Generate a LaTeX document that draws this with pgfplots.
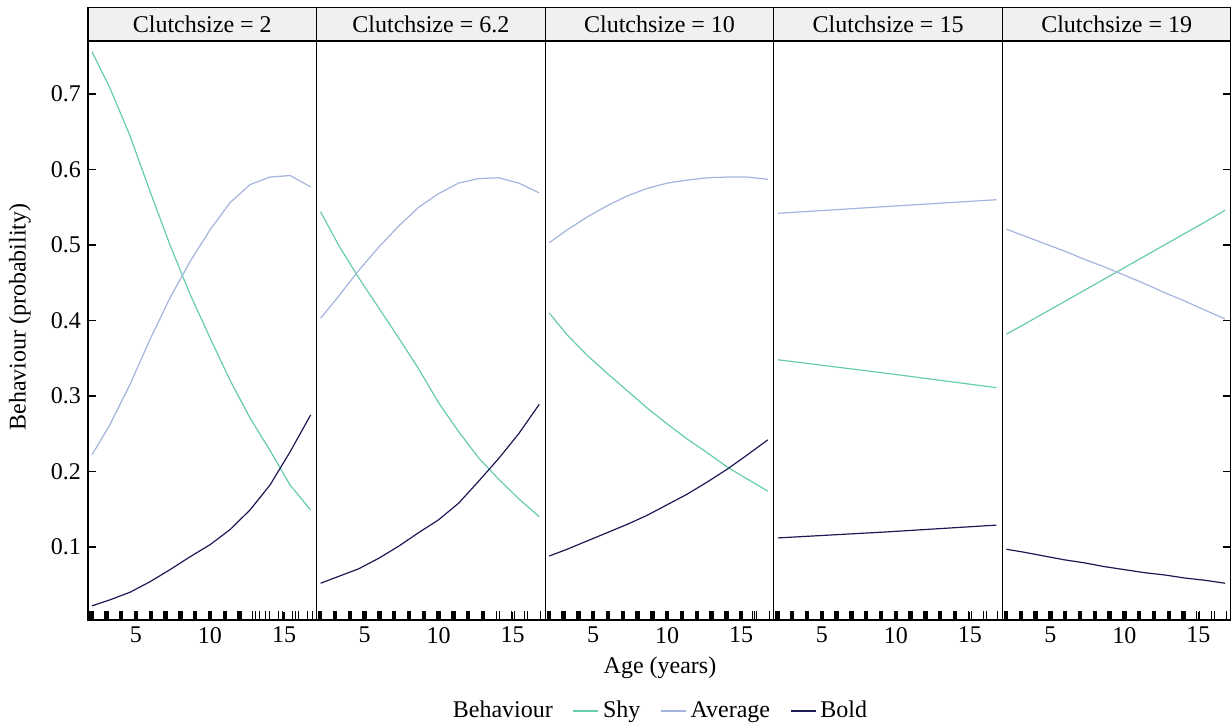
\documentclass[border=0pt]{standalone}
\usepackage{pgfplots}
\pgfplotsset{compat=1.18}
\usepackage{fontspec}
\setmainfont{Liberation Serif}

\definecolor{cshy}{HTML}{66CDAA}
\definecolor{cavg}{HTML}{A4B4DE}
\definecolor{cbold}{HTML}{1C1A55}

\pgfplotsset{
  panel/.style={
    scale only axis, width=114.3pt, height=289.5pt,
    anchor=south west,
    xmin=1.76, xmax=17.2, ymin=0.0033, ymax=0.7702,
    xtick={5,10,15}, xticklabels={5,10,15},
    ytick={0.1,0.2,0.3,0.4,0.5,0.6,0.7},
    tick align=inside, major tick length=4pt,
    xtick pos=left,
    axis line style={line width=0.6pt},
    every tick/.style={black, line width=0.6pt},
    font=\fontsize{12}{14}\selectfont,
    /pgf/number format/assume math mode=true,
  },
  rug/.style={ycomb, black, forget plot, line width=#1},
  shy/.style={cshy, line width=0.6pt, no markers},
  avg/.style={cavg, line width=0.6pt, no markers},
  bld/.style={cbold, line width=0.6pt, no markers},
}
\tikzset{
  strip/.style={draw, line width=0.6pt, fill=gray!12, minimum width=114.3pt,
    minimum height=16.5pt, anchor=south, inner sep=0pt,
    font=\fontsize{12}{14}\selectfont},
}

\begin{document}
\begin{tikzpicture}
\useasboundingbox (-44pt,-51.5pt) rectangle (571.5pt,310pt);

% Clutchsize = 2
\begin{axis}[panel, name=p1, at={(0pt,0pt)}, ytick pos=left,
  yticklabels={0.1,0.2,0.3,0.4,0.5,0.6,0.7},
  legend style={at={(2.502,-0.157)}, anchor=center, draw=none, fill=none,
    legend columns=4, font=\fontsize{12}{14}\selectfont,
    /tikz/every even column/.append style={column sep=8pt}},
  legend image code/.code={\draw[#1] (0pt,0pt) -- (12.5pt,0pt);},
]
\addlegendimage{empty legend}
\addlegendentry{Behaviour}
\addplot[shy] coordinates {(2.03,0.756)(3.24,0.708)(4.59,0.645)(5.95,0.571)(7.30,0.500)(8.65,0.435)(10.0,0.377)(11.35,0.321)(12.70,0.271)(14.05,0.228)(15.41,0.182)(16.80,0.149)};
\addlegendentry{Shy}
\addplot[avg] coordinates {(2.03,0.222)(3.24,0.262)(4.59,0.315)(5.95,0.375)(7.30,0.430)(8.65,0.478)(10.0,0.520)(11.35,0.556)(12.70,0.580)(14.05,0.590)(15.41,0.592)(16.80,0.577)};
\addlegendentry{Average}
\addplot[bld] coordinates {(2.03,0.022)(3.24,0.030)(4.59,0.040)(5.95,0.054)(7.30,0.070)(8.65,0.087)(10.0,0.103)(11.35,0.123)(12.70,0.149)(14.05,0.182)(15.41,0.226)(16.80,0.275)};
\addlegendentry{Bold}
\addplot[rug=2.2pt] coordinates {(2,0.0155)(3,0.0155)(4,0.0155)(5,0.0155)(6,0.0155)(7,0.0155)(8,0.0155)(9,0.0155)(10,0.0155)(11,0.0155)(12,0.0155)};
\addplot[rug=0.5pt] coordinates {(12.9,0.0155)(13.1,0.0155)(13.35,0.0155)(13.75,0.0155)(14.0,0.0155)(14.6,0.0155)(14.9,0.0155)(15.6,0.0155)(15.75,0.0155)(16.0,0.0155)(16.6,0.0155)(16.9,0.0155)};
\end{axis}

% Clutchsize = 6.2
\begin{axis}[panel, name=p2, at={(114.3pt,0pt)}, ytick=\empty]
\addplot[shy] coordinates {(2.03,0.544)(3.24,0.500)(4.59,0.457)(5.95,0.417)(7.30,0.377)(8.65,0.336)(10.0,0.291)(11.35,0.253)(12.70,0.218)(14.05,0.190)(15.41,0.164)(16.80,0.140)};
\addplot[avg] coordinates {(2.03,0.403)(3.24,0.432)(4.59,0.466)(5.95,0.497)(7.30,0.525)(8.65,0.550)(10.0,0.568)(11.35,0.582)(12.70,0.588)(14.05,0.589)(15.41,0.582)(16.80,0.569)};
\addplot[bld] coordinates {(2.03,0.052)(3.24,0.061)(4.59,0.071)(5.95,0.085)(7.30,0.101)(8.65,0.119)(10.0,0.136)(11.35,0.158)(12.70,0.187)(14.05,0.217)(15.41,0.250)(16.80,0.289)};
\addplot[rug=2.2pt] coordinates {(2,0.0155)(3,0.0155)(4,0.0155)(5,0.0155)(6,0.0155)(7,0.0155)(8,0.0155)(9,0.0155)(10,0.0155)(11,0.0155)(12,0.0155)(13,0.0155)};
\addplot[rug=0.5pt] coordinates {(13.9,0.0155)(14.1,0.0155)(14.9,0.0155)(15.1,0.0155)(15.8,0.0155)(16.0,0.0155)(16.9,0.0155)};
\end{axis}

% Clutchsize = 10
\begin{axis}[panel, name=p3, at={(228.6pt,0pt)}, ytick=\empty]
\addplot[shy] coordinates {(2.03,0.410)(3.24,0.381)(4.59,0.354)(5.95,0.330)(7.30,0.307)(8.65,0.284)(10.0,0.263)(11.35,0.243)(12.70,0.225)(14.05,0.206)(15.41,0.190)(16.80,0.174)};
\addplot[avg] coordinates {(2.03,0.503)(3.24,0.520)(4.59,0.537)(5.95,0.552)(7.30,0.565)(8.65,0.575)(10.0,0.582)(11.35,0.586)(12.70,0.589)(14.05,0.590)(15.41,0.590)(16.80,0.587)};
\addplot[bld] coordinates {(2.03,0.088)(3.24,0.097)(4.59,0.108)(5.95,0.119)(7.30,0.130)(8.65,0.142)(10.0,0.156)(11.35,0.170)(12.70,0.186)(14.05,0.203)(15.41,0.222)(16.80,0.242)};
\addplot[rug=2.2pt] coordinates {(2,0.0155)(3,0.0155)(4,0.0155)(5,0.0155)(6,0.0155)(7,0.0155)(8,0.0155)(9,0.0155)(10,0.0155)(11,0.0155)(12,0.0155)(13,0.0155)(14,0.0155)(15,0.0155)};
\addplot[rug=0.5pt] coordinates {(15.75,0.0155)(15.9,0.0155)(16.0,0.0155)(16.9,0.0155)};
\end{axis}

% Clutchsize = 15
\begin{axis}[panel, name=p4, at={(342.9pt,0pt)}, ytick=\empty]
\addplot[shy] coordinates {(2.03,0.348)(9.4,0.330)(16.80,0.311)};
\addplot[avg] coordinates {(2.03,0.542)(9.4,0.551)(16.80,0.560)};
\addplot[bld] coordinates {(2.03,0.112)(9.4,0.120)(16.80,0.129)};
\addplot[rug=2.2pt] coordinates {(2,0.0155)(3,0.0155)(4,0.0155)(5,0.0155)(6,0.0155)(7,0.0155)(8,0.0155)(9,0.0155)(10,0.0155)(11,0.0155)(12,0.0155)(13,0.0155)(14,0.0155)};
\addplot[rug=0.5pt] coordinates {(14.9,0.0155)(15.1,0.0155)(15.9,0.0155)(16.1,0.0155)(16.9,0.0155)};
\end{axis}

% Clutchsize = 19
\begin{axis}[panel, name=p5, at={(457.2pt,0pt)}, ytick pos=right,
  yticklabel pos=left, yticklabels={,,,,,,}]
\addplot[shy] coordinates {(2.03,0.382)(3.24,0.395)(4.59,0.410)(5.95,0.425)(7.30,0.440)(8.65,0.455)(10.0,0.470)(11.35,0.485)(12.70,0.500)(14.05,0.515)(15.41,0.530)(16.80,0.546)};
\addplot[avg] coordinates {(2.03,0.521)(3.24,0.512)(4.59,0.502)(5.95,0.492)(7.30,0.481)(8.65,0.471)(10.0,0.460)(11.35,0.449)(12.70,0.437)(14.05,0.426)(15.41,0.414)(16.80,0.402)};
\addplot[bld] coordinates {(2.03,0.097)(3.24,0.093)(4.59,0.088)(5.95,0.083)(7.30,0.079)(8.65,0.074)(10.0,0.070)(11.35,0.066)(12.70,0.063)(14.05,0.059)(15.41,0.056)(16.80,0.052)};
\addplot[rug=2.2pt] coordinates {(2,0.0155)(3,0.0155)(4,0.0155)(5,0.0155)(6,0.0155)(7,0.0155)(8,0.0155)(9,0.0155)(10,0.0155)(11,0.0155)(12,0.0155)(13,0.0155)(14,0.0155)};
\addplot[rug=0.5pt] coordinates {(14.9,0.0155)(15.1,0.0155)(15.9,0.0155)(16.1,0.0155)(16.9,0.0155)};
\end{axis}

\node[strip] at (p1.north) {Clutchsize = 2};
\node[strip] at (p2.north) {Clutchsize = 6.2};
\node[strip] at (p3.north) {Clutchsize = 10};
\node[strip] at (p4.north) {Clutchsize = 15};
\node[strip] at (p5.north) {Clutchsize = 19};

\node[rotate=90, font=\fontsize{12}{14}\selectfont] at (-34pt,151.5pt) {Behaviour (probability)};
\node[font=\fontsize{12}{14}\selectfont] at (286pt,-24pt) {Age (years)};
\end{tikzpicture}
\end{document}
